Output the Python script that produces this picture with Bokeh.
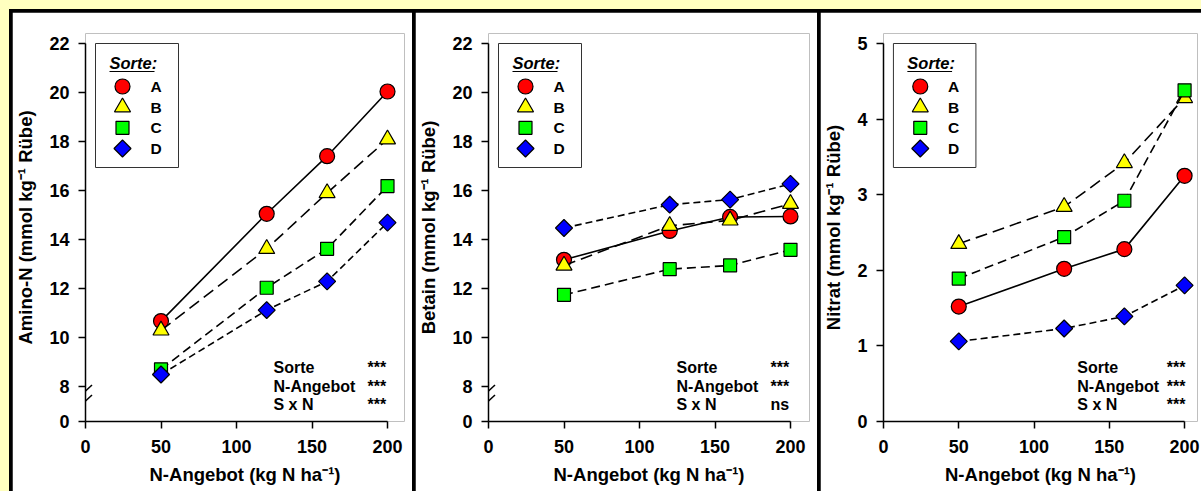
import numpy as np
from bokeh.plotting import figure
from bokeh.layouts import row
from bokeh.models import FixedTicker, Range1d, Arrow, GlobalInlineStyleSheet
from bokeh.core.properties import value
from bokeh.embed import file_html
from bokeh.resources import INLINE

# ---------------- data ----------------
n_supply = [50, 120, 160, 200]
varieties = ["A", "B", "C", "D"]

amino_A = [10.67, 15.05, 17.40, 20.04]
amino_B = [10.29, 13.62, 15.90, 18.09]
amino_C = [8.70, 12.03, 13.62, 16.18]
amino_D = [8.49, 11.12, 12.29, 14.69]

betain_A = [13.17, 14.35, 14.92, 14.94]
betain_B = [12.94, 14.56, 14.78, 15.46]
betain_C = [11.74, 12.79, 12.94, 13.58]
betain_D = [14.47, 15.42, 15.63, 16.27]

nitrat_A = [1.52, 2.02, 2.28, 3.25]
nitrat_B = [2.35, 2.84, 3.42, 4.28]
nitrat_C = [1.89, 2.44, 2.92, 4.38]
nitrat_D = [1.06, 1.23, 1.39, 1.80]

x_ticks = [0, 50, 100, 150, 200]
y_ticks_amino = [8, 10, 12, 14, 16, 18, 20, 22]
y_ticks_betain = [8, 10, 12, 14, 16, 18, 20, 22]
y_ticks_nitrat = [0, 1, 2, 3, 4, 5]
broken_label = "0"

stat_terms = ["Sorte", "N-Angebot", "S x N"]
stat_amino = ["***", "***", "***"]
stat_betain = ["***", "***", "ns"]
stat_nitrat = ["***", "***", "***"]

y_titles = ["Amino-N (mmol kg\u207b\u00b9 R\u00fcbe)",
            "Betain (mmol kg\u207b\u00b9 R\u00fcbe)",
            "Nitrat (mmol kg\u207b\u00b9 R\u00fcbe)"]
x_title = "N-Angebot (kg N ha\u207b\u00b9)"
legend_title = "Sorte:"

# ---------------- style ----------------
FONT = "Liberation Sans"
BG_YELLOW = "#FFFFBF"
colors = ["#FF0000", "#FFFF00", "#00FF00", "#0000FF"]
markers = ["circle", "triangle", "square", "square"]
angles = [0, 0, 0, np.pi / 4]
sizes = [15, 16, 13, 12]
dashes = ["solid", "12 6", "9 5", "7 4"]

FIG_H = 479
TOP = 21
BOTTOM = 70
FRAME_H = FIG_H - TOP - BOTTOM


def build(width, left, right, px200, series, y_title, ticks, gap, stats, stat_x, star_x):
    T, L = max(ticks), min(ticks)
    ppy = (FRAME_H - 10 - gap) / (T - L)
    y_start = L - gap / ppy
    y_end = T + 10 / ppy
    fw = width - left - right
    ppx = px200 / 200.0
    x_end = fw / ppx

    def X(px):
        return px / ppx

    def Y(px):
        return y_end - px / ppy

    p = figure(width=width, height=FIG_H, output_backend="svg", toolbar_location=None,
               x_range=Range1d(0, x_end), y_range=Range1d(y_start, y_end),
               min_border_left=left, min_border_right=right,
               min_border_top=TOP, min_border_bottom=BOTTOM,
               background_fill_color="white", border_fill_color="white",
               outline_line_color=None)
    p.grid.visible = False

    yt = list(ticks)
    overrides = {}
    if gap > 0:
        yt = [y_start] + yt
        overrides = {y_start: broken_label}

    for ax, tk, bnd in ((p.xaxis[0], x_ticks, (0, 200)), (p.yaxis[0], yt, (y_start, T))):
        ax.ticker = FixedTicker(ticks=tk)
        ax.bounds = bnd
        ax.axis_line_width = 1.5
        ax.axis_line_color = "black"
        ax.major_tick_line_width = 1.5
        ax.major_tick_out = 7
        ax.major_tick_in = 0
        ax.minor_tick_line_color = None
        ax.major_label_text_font = FONT
        ax.major_label_text_font_style = "bold"
        ax.major_label_text_font_size = "18px"
        ax.major_label_text_color = "black"
        ax.axis_label_text_font = FONT
        ax.axis_label_text_font_style = "bold"
        ax.axis_label_text_font_size = "18.5px"
        ax.axis_label_text_color = "black"
    p.yaxis[0].major_label_overrides = overrides
    p.xaxis[0].major_label_standoff = 11
    p.xaxis[0].axis_label_standoff = 8
    p.yaxis[0].major_label_standoff = 9
    p.yaxis[0].axis_label_standoff = 10
    p.xaxis[0].axis_label = x_title
    p.yaxis[0].axis_label = y_title

    for i, vals in enumerate(series):
        p.line(n_supply, vals, line_color="black", line_width=1.6, line_dash=dashes[i])
        p.scatter(n_supply, vals, marker=markers[i], size=sizes[i], angle=angles[i],
                  fill_color=colors[i], line_color="black", line_width=1.2)

    # legend box
    bx, by, bw, bh = 10, 10, 83, 124
    p.quad(left=[X(bx)], right=[X(bx + bw)], top=[Y(by)], bottom=[Y(by + bh)],
           fill_color="white", line_color="#333333", line_width=1)
    p.text(x=[X(bx + 14)], y=[Y(by + 19)], text=[legend_title], text_font=value(FONT),
           text_font_style="bold italic", text_font_size="16.5px", text_baseline="middle",
           text_color="black")
    p.segment(x0=[X(bx + 14)], y0=[Y(by + 28)], x1=[X(bx + 59)], y1=[Y(by + 28)],
              line_color="black", line_width=1)
    for i, name in enumerate(varieties):
        yy = Y(by + 43 + i * 20.67)
        p.scatter([X(bx + 27)], [yy], marker=markers[i], size=sizes[i], angle=angles[i],
                  fill_color=colors[i], line_color="black", line_width=1.2)
        p.text(x=[X(bx + 55)], y=[yy], text=[name], text_font=value(FONT),
               text_font_style="bold", text_font_size="15.5px", text_baseline="middle",
               text_color="black")

    # statistics
    for j, term in enumerate(stat_terms):
        yy = Y(334 + j * 18.5)
        p.text(x=[X(stat_x)], y=[yy], text=[term], text_font=value(FONT),
               text_font_style="bold", text_font_size="16px", text_baseline="middle",
               text_color="black")
        p.text(x=[X(star_x)], y=[yy], text=[stats[j]], text_font=value(FONT),
               text_font_style="bold", text_font_size="16px", text_baseline="middle",
               text_color="black")

    # axis break marks
    if gap > 0:
        y0 = y_start
        for off in (20.5, 30.5):
            p.add_layout(Arrow(x_start=X(-6.5), y_start=y0 + (off - 6) / ppy,
                               x_end=X(6.5), y_end=y0 + (off + 6) / ppy,
                               start=None, end=None, line_color="black", line_width=1.5))
    return p


f1 = build(400, 73, 8, 302, [amino_A, amino_B, amino_C, amino_D], y_titles[0],
           y_ticks_amino, 35, stat_amino, 188, 282)
f2 = build(402, 73, 8, 302, [betain_A, betain_B, betain_C, betain_D], y_titles[1],
           y_ticks_betain, 35, stat_betain, 188, 282)
f3 = build(381, 61, 4, 303, [nitrat_A, nitrat_B, nitrat_C, nitrat_D], y_titles[2],
           y_ticks_nitrat, 0, stat_nitrat, 195, 285)

sheet = GlobalInlineStyleSheet(
    css=("html, body { background-color: %s !important; overflow: hidden; }"
         " body { padding: 9px 0 0 9px !important; margin: 0 !important; }") % BG_YELLOW)
layout = row([f1, f2, f3], spacing=3,
             styles={"background-color": "black", "padding-top": "3px", "padding-left": "3px"},
             stylesheets=[sheet])

open("out.html", "w").write(file_html(layout, INLINE))
